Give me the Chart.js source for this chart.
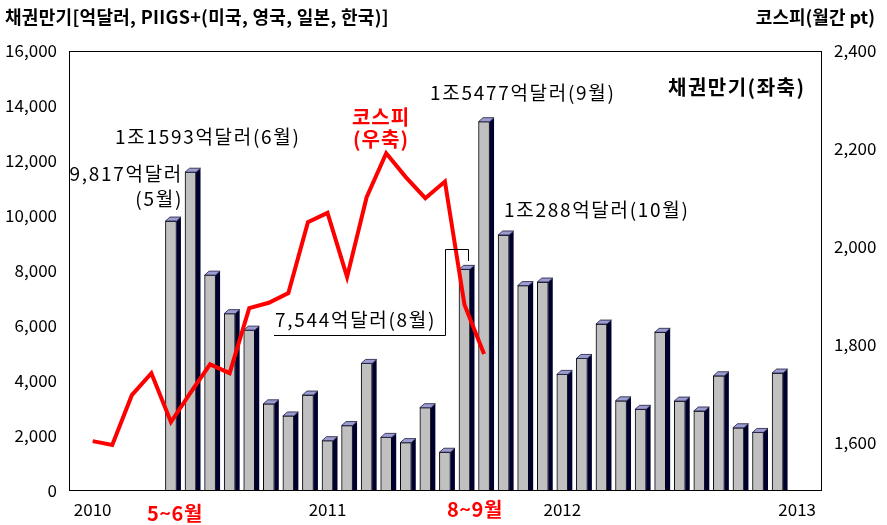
<!DOCTYPE html>
<html>
<head>
<meta charset="utf-8">
<script src="https://cdn.jsdelivr.net/npm/chart.js@4.4.1/dist/chart.umd.min.js"></script>
<style>
  html, body { margin: 0; padding: 0; background: #fff; }
  #wrap { width: 887px; height: 525px; position: relative; }
</style>
</head>
<body>
<div id="wrap"><canvas id="chart"></canvas></div>
<script>
// months on the x axis (index 0 = Jan 2010)
const months = [
  '2010-01','2010-02','2010-03','2010-04','2010-05','2010-06','2010-07','2010-08','2010-09','2010-10','2010-11','2010-12',
  '2011-01','2011-02','2011-03','2011-04','2011-05','2011-06','2011-07','2011-08','2011-09','2011-10','2011-11','2011-12',
  '2012-01','2012-02','2012-03','2012-04','2012-05','2012-06','2012-07','2012-08','2012-09','2012-10','2012-11','2012-12'
];
const yearLabels = ['2010', '2011', '2012', '2013'];
const yearTickIdx = [0, 12, 24, 36];

// 채권만기 (억달러), left axis
const bondMaturity = [
  null, null, null, null, 9817, 11593, 7850, 6450, 5850, 3170, 2730, 3490,
  1830, 2380, 4640, 1950, 1760, 3030, 1410, 8060, 13430, 9310, 7470, 7600,
  4240, 4820, 6070, 3280, 2970, 5770, 3270, 2910, 4190, 2300, 2130, 4290
];

// 코스피 월간 (pt), right axis
const kospi = [
  1602, 1594, 1696, 1741, 1641, 1701, 1759, 1741, 1874, 1885, 1905, 2050,
  2069, 1938, 2101, 2191, 2142, 2099, 2133, 1881, 1780
];

const leftTicks = [0, 2000, 4000, 6000, 8000, 10000, 12000, 14000, 16000];
const rightTicks = [1600, 1800, 2000, 2200, 2400];

const FONT = "'Noto Sans CJK KR', 'Noto Sans', sans-serif";

const toPoints = arr => arr
  .map((v, i) => ({ x: months.indexOf(months[i]), y: v }))
  .filter(p => p.y !== null);

// 3D side / top faces for the bars
const barDepth = {
  id: 'barDepth',
  afterDatasetDraw(chart, args) {
    if (args.meta.type !== 'bar') return;
    const ctx = chart.ctx;
    const dx = 4.5, dy = 4;
    ctx.save();
    args.meta.data.forEach(el => {
      const { x, y, base, width } = el.getProps(['x', 'y', 'base', 'width'], true);
      if (isNaN(y) || base - y < 1) return;
      const l = x - width / 2, r = x + width / 2;
      ctx.fillStyle = '#00002e';
      ctx.beginPath();
      ctx.moveTo(r, y);
      ctx.lineTo(r + dx, y - dy);
      ctx.lineTo(r + dx, base);
      ctx.lineTo(r, base);
      ctx.closePath();
      ctx.fill();
      ctx.fillStyle = '#9c9cd0';
      ctx.strokeStyle = '#1a1a40';
      ctx.lineWidth = 0.8;
      ctx.beginPath();
      ctx.moveTo(l, y);
      ctx.lineTo(l + dx, y - dy);
      ctx.lineTo(r + dx, y - dy);
      ctx.lineTo(r, y);
      ctx.closePath();
      ctx.fill();
      ctx.stroke();
    });
    ctx.restore();
  }
};

// plot frame, bracket and text notes
const notes = {
  id: 'notes',
  afterDraw(chart) {
    const ctx = chart.ctx;
    const a = chart.chartArea;
    ctx.save();
    ctx.strokeStyle = '#000';
    ctx.lineWidth = 1;
    ctx.strokeRect(Math.round(a.left) + 0.5, Math.round(a.top) + 0.5,
      Math.round(a.right - a.left) - 1, Math.round(a.bottom - a.top) - 1);

    // bracket for the 7,544 note
    ctx.beginPath();
    ctx.moveTo(274, 335.5); ctx.lineTo(445.5, 335.5);
    ctx.lineTo(445.5, 249.5); ctx.lineTo(468.5, 249.5); ctx.lineTo(468.5, 261);
    ctx.stroke();

    const txt = (s, x, y, opt) => {
      ctx.font = (opt.bold ? 'bold ' : '') + opt.size + 'px ' + FONT;
      ctx.fillStyle = opt.color || '#000';
      ctx.textAlign = opt.align || 'left';
      ctx.textBaseline = 'middle';
      ctx.letterSpacing = (opt.ls || 0) + 'px';
      ctx.fillText(s, x, y);
    };
    txt('채권만기[억달러, PIIGS+(미국, 영국, 일본, 한국)]', 5, 17, { bold: true, size: 18, ls: 0.3 });
    txt('코스피(월간 pt)', 875, 17, { bold: true, size: 18, align: 'right' });
    txt('채권만기(좌축)', 668, 87, { bold: true, size: 20, ls: 1.5 });
    txt('코스피', 381, 117, { bold: true, size: 20, color: '#ff0000', align: 'center', ls: 1 });
    txt('(우축)', 381, 139, { bold: true, size: 20, color: '#ff0000', align: 'center', ls: 1 });
    txt('1조5477억달러(9월)', 430, 93, { size: 19, ls: 1.7 });
    txt('1조1593억달러(6월)', 115, 137, { size: 19, ls: 1.7 });
    txt('9,817억달러', 183, 174, { size: 19, ls: 1.7, align: 'right' });
    txt('(5월)', 183, 199, { size: 19, ls: 1.7, align: 'right' });
    txt('1조288억달러(10월)', 504, 210, { size: 19, ls: 1.7 });
    txt('7,544억달러(8월)', 275, 320, { size: 19, ls: 1.7 });
    txt('5~6월', 147, 513, { bold: true, size: 20, color: '#ff0000', ls: 0.5 });
    txt('8~9월', 447, 509, { bold: true, size: 20, color: '#ff0000', ls: 0.5 });
    ctx.restore();
  }
};

const ctx = document.getElementById('chart').getContext('2d');
new Chart(ctx, {
  type: 'bar',
  data: {
    datasets: [
      {
        type: 'bar',
        label: '채권만기',
        data: toPoints(bondMaturity),
        backgroundColor: '#c0c0c0',
        borderColor: '#000',
        borderWidth: 1,
        barThickness: 11,
        yAxisID: 'y',
        order: 1
      },
      {
        type: 'line',
        label: '코스피',
        data: toPoints(kospi),
        borderColor: '#ff0000',
        borderWidth: 4,
        pointRadius: 0,
        tension: 0,
        fill: false,
        yAxisID: 'y2',
        order: 0
      }
    ]
  },
  options: {
    responsive: true,
    maintainAspectRatio: false,
    animation: false,
    layout: { padding: { top: 51, left: 0, right: 0, bottom: 0 } },
    plugins: { legend: { display: false }, tooltip: { enabled: false } },
    scales: {
      x: {
        type: 'linear',
        offset: false,
        min: -1.21,
        max: 37.27,
        grid: { display: false, drawTicks: false },
        border: { display: false },
        afterBuildTicks: s => { s.ticks = yearTickIdx.map(v => ({ value: v })); },
        afterFit: s => { s.height = 34; },
        ticks: {
          font: { family: FONT, size: 17 },
          color: '#000',
          padding: 8,
          maxRotation: 0,
          callback: v => yearLabels[yearTickIdx.indexOf(v)]
        }
      },
      y: {
        position: 'left',
        min: 0,
        max: 16000,
        grid: { display: false, drawTicks: false },
        border: { display: false },
        afterBuildTicks: s => { s.ticks = leftTicks.map(v => ({ value: v })); },
        afterFit: s => { s.width = 69; },
        ticks: {
          font: { family: FONT, size: 17 },
          color: '#000',
          padding: 12,
          callback: v => v.toLocaleString('en-US')
        }
      },
      y2: {
        position: 'right',
        min: 1500,
        max: 2400,
        grid: { display: false, drawTicks: false },
        border: { display: false },
        afterBuildTicks: s => { s.ticks = rightTicks.map(v => ({ value: v })); },
        afterFit: s => { s.width = 65; },
        ticks: {
          font: { family: FONT, size: 17 },
          color: '#000',
          padding: 12,
          callback: v => v.toLocaleString('en-US')
        }
      }
    }
  },
  plugins: [barDepth, notes]
});
</script>
</body>
</html>
